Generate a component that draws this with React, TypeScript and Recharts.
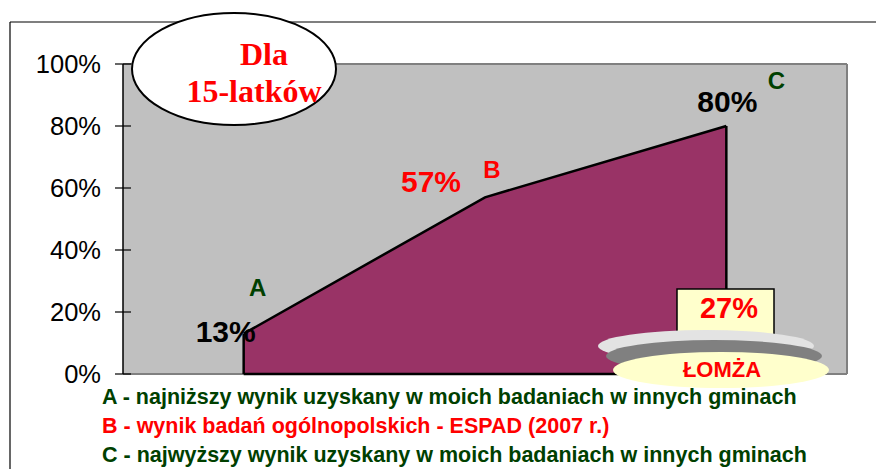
import React from 'react';
import { AreaChart, Area, XAxis, YAxis, CartesianGrid, LabelList, ReferenceLine } from 'recharts';

const categories = ['A', 'B', 'C'];
const values = [0.13, 0.57, 0.8];
const valueLabels = ['13%', '57%', '80%'];
const yTicks = [0, 0.2, 0.4, 0.6, 0.8, 1];
const titleLines = ['Dla', '15-latków'];
const badgeValue = '27%';
const badgeName = 'ŁOMŻA';
const legendLines = [
  'A - najniższy wynik uzyskany w moich badaniach w innych gminach',
  'B - wynik badań ogólnopolskich - ESPAD (2007 r.)',
  'C - najwyższy wynik uzyskany w moich badaniach w innych gminach',
];

const data = categories.map((c, i) => ({ cat: c, value: values[i] }));

const GREEN = '#004000';
const RED = '#FF0000';
const valueColors = ['#000', RED, '#000'];
const letterColors = [GREEN, RED, GREEN];
const valueOffsets = [
  { dx: -18, dy: 8 },
  { dx: -54, dy: -5 },
  { dx: 1, dy: -14 },
];
const letterOffsets = [
  { dx: 14, dy: -38 },
  { dx: 7, dy: -19 },
  { dx: 50, dy: -37 },
];
const legendColors = [GREEN, RED, GREEN];

const FONT = 'Arial, "Liberation Sans", sans-serif';

const YTick = (props: any) => {
  const { x, y, payload } = props;
  return (
    <g>
      <line x1={x + 14} x2={x + 30} y1={y} y2={y} stroke="#000" strokeWidth={1.2} />
      <text x={x} y={y + 9} textAnchor="end" fontFamily={FONT} fontSize={25.5} fill="#000">
        {Math.round(payload.value * 100) + '%'}
      </text>
    </g>
  );
};

const ValueLabel = (props: any) => {
  const { x, y, index } = props;
  const o = valueOffsets[index];
  return (
    <text x={x + o.dx} y={y + o.dy} textAnchor="middle" fontFamily={FONT} fontWeight="bold" fontSize={30} fill={valueColors[index]}>
      {valueLabels[index]}
    </text>
  );
};

const LetterLabel = (props: any) => {
  const { x, y, index } = props;
  const o = letterOffsets[index];
  return (
    <text x={x + o.dx} y={y + o.dy} textAnchor="middle" fontFamily={FONT} fontWeight="bold" fontSize={24} fill={letterColors[index]}>
      {categories[index]}
    </text>
  );
};

export default function App() {
  return (
    <div style={{ position: 'absolute', left: 0, top: 0, width: 876, height: 469, background: '#fff', overflow: 'hidden' }}>
      <AreaChart width={876} height={469} data={data} margin={{ top: 64, right: 29, bottom: 95, left: 0 }}>
        <CartesianGrid
          fill="#C0C0C0"
          stroke="#808080"
          strokeWidth={2}
          horizontalCoordinatesGenerator={({ offset }: any) => [offset.top, offset.top + offset.height]}
          verticalCoordinatesGenerator={({ offset }: any) => [offset.left + offset.width]}
        />
        <XAxis dataKey="cat" type="category" scale="band" hide />
        <YAxis
          domain={[0, 1]}
          ticks={yTicks}
          width={123}
          tickSize={0}
          tickMargin={22}
          tickLine={false}
          axisLine={{ stroke: '#000', strokeWidth: 1.5 }}
          tick={<YTick />}
          interval={0}
        />
        <Area
          type="linear"
          dataKey="value"
          fill="#993366"
          fillOpacity={1}
          stroke="#000"
          strokeWidth={2.5}
          isAnimationActive={false}
          dot={false}
          activeDot={false}
        >
          <LabelList dataKey="value" content={<ValueLabel />} />
          <LabelList dataKey="cat" content={<LetterLabel />} />
        </Area>
        <ReferenceLine
          segment={[{ x: categories[0], y: 0 }, { x: categories[0], y: values[0] }]}
          stroke="#000"
          strokeWidth={2.5}
        />
        <ReferenceLine
          segment={[{ x: categories[2], y: 0 }, { x: categories[2], y: values[2] }]}
          stroke="#000"
          strokeWidth={2.5}
        />
        <ReferenceLine
          segment={[{ x: categories[0], y: 0 }, { x: categories[2], y: 0 }]}
          stroke="#000"
          strokeWidth={2.5}
        />
      </AreaChart>
      <svg width={876} height={469} style={{ position: 'absolute', left: 0, top: 0, pointerEvents: 'none' }}>
        <line x1={10} y1={22} x2={876} y2={22} stroke="#000" strokeWidth={1.2} />
        <line x1={10} y1={22} x2={10} y2={469} stroke="#000" strokeWidth={1.2} />
        <ellipse cx={234} cy={69} rx={102} ry={56} fill="#fff" stroke="#000" strokeWidth={2} />
        <text x={264} y={65} textAnchor="middle" fontFamily='"Liberation Serif", "Times New Roman", serif' fontWeight="bold" fontSize={32} fill={RED}>
          {titleLines[0]}
        </text>
        <text x={254} y={102} textAnchor="middle" fontFamily='"Liberation Serif", "Times New Roman", serif' fontWeight="bold" fontSize={32} fill={RED}>
          {titleLines[1]}
        </text>
        <rect x={677} y={289} width={97} height={50} fill="#FFFFCC" stroke="#000" strokeWidth={1.5} />
        <text x={729} y={318} textAnchor="middle" fontFamily={FONT} fontWeight="bold" fontSize={29} fill={RED}>
          {badgeValue}
        </text>
        <ellipse cx={706} cy={346} rx={108} ry={16} fill="#E3E3E3" />
        <ellipse cx={714} cy={356} rx={108} ry={16} fill="#808080" />
        <ellipse cx={721} cy={370} rx={108} ry={18} fill="#FFFFCC" />
        <text x={722} y={377} textAnchor="middle" fontFamily={FONT} fontWeight="bold" fontSize={22} fill={RED}>
          {badgeName}
        </text>
        {legendLines.map((t, i) => (
          <text key={i} x={102} y={404 + i * 29} fontFamily={FONT} fontWeight="bold" fontSize={21.5} fill={legendColors[i]}>
            {t}
          </text>
        ))}
      </svg>
    </div>
  );
}
